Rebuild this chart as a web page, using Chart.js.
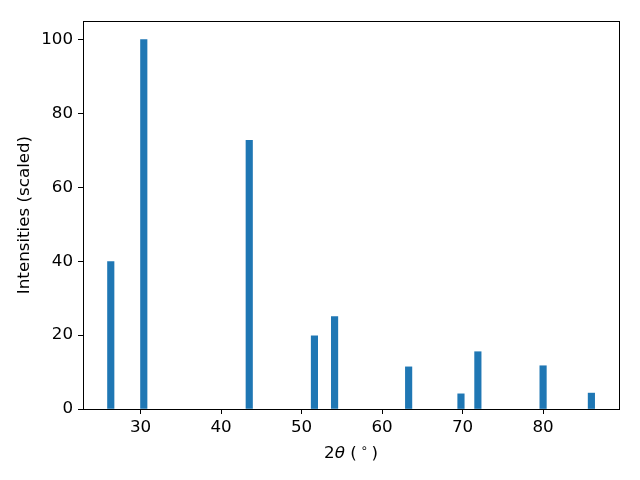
<!DOCTYPE html>
<html>
<head>
<meta charset="utf-8">
<script src="https://cdn.jsdelivr.net/npm/chart.js@4/dist/chart.umd.min.js"></script>
<style>
    body { margin: 0; background: #fff; }
    canvas { display: block; }
</style>
</head>
<body>
<canvas id="xrdChart" width="640" height="480"></canvas>
<script>
// peak positions (2theta, degrees) and scaled intensities
const peakAngles = [26.3, 30.4, 43.5, 51.6, 54.1, 63.3, 69.8, 71.9, 80.0, 86.0];
const intensities = [39.9, 100, 72.7, 19.8, 25.0, 11.4, 4.1, 15.5, 11.7, 4.3];
// x label pieces: [text, style] -> "2θ (°)" with italic theta and superscript circle
const xLabelParts = [["2", "normal"], ["θ", "italic"], [" (", "normal"], [" ∘ ", "sup"], [")", "normal"]];
const yLabel = "Intensities (scaled)";

const fontFamily = "'DejaVu Sans', sans-serif";
const fontSize = 16.7;

// matplotlib-style box around the axes
const frame = {
    id: "frame",
    afterDraw(chart) {
        const { ctx, chartArea } = chart;
        ctx.save();
        ctx.strokeStyle = "#000";
        ctx.lineWidth = 1;
        ctx.strokeRect(chartArea.left + 0.5, chartArea.top + 0.5,
            chartArea.right - chartArea.left, chartArea.bottom - chartArea.top);
        ctx.restore();
    }
};

// x axis title drawn in pieces so theta can be italic and the degree sign raised
const xTitle = {
    id: "xTitle",
    afterDraw(chart) {
        const { ctx, chartArea } = chart;
        const fontFor = (style) => {
            if (style === "italic") return "oblique " + fontSize + "px " + fontFamily;
            if (style === "sup") return (fontSize * 0.7) + "px " + fontFamily;
            return fontSize + "px " + fontFamily;
        };
        ctx.save();
        ctx.fillStyle = "#000";
        ctx.textBaseline = "alphabetic";
        ctx.textAlign = "left";
        let total = 0;
        const widths = xLabelParts.map(([t, s]) => {
            ctx.font = fontFor(s);
            const w = ctx.measureText(t).width;
            total += w;
            return w;
        });
        let x = (chartArea.left + chartArea.right) / 2 - total / 2;
        const baseY = 458;
        xLabelParts.forEach(([t, s], i) => {
            ctx.font = fontFor(s);
            ctx.fillText(t, x, s === "sup" ? baseY - 6 : baseY);
            x += widths[i];
        });
        ctx.restore();
    }
};

function init() {
    const points = peakAngles.map((x, i) => ({ x: x, y: intensities[i] }));

    new Chart("xrdChart", {
        type: "bar",
        data: {
            datasets: [{
                data: points,
                backgroundColor: "#1f77b4",
                borderWidth: 0,
                barThickness: 6.5
            }]
        },
        options: {
            responsive: false,
            animation: false,
            layout: { padding: { top: 21, right: 21, left: 0, bottom: 0 } },
            plugins: {
                legend: { display: false },
                tooltip: { enabled: false }
            },
            scales: {
                x: {
                    type: "linear",
                    min: 22.85,
                    max: 89.43,
                    offset: false,
                    afterFit: (scale) => { scale.height = 71; },
                    grid: { display: true, offset: false, drawOnChartArea: false, drawTicks: true, tickLength: 5, color: "#000" },
                    border: { display: true, color: "#000", width: 1 },
                    ticks: {
                        stepSize: 10,
                        includeBounds: false,
                        padding: 4,
                        color: "#000",
                        maxRotation: 0,
                        font: { family: fontFamily, size: fontSize }
                    },
                    title: { display: false }
                },
                y: {
                    min: 0,
                    max: 105,
                    afterFit: (scale) => { scale.width = 83; },
                    grid: { display: true, drawOnChartArea: false, drawTicks: true, tickLength: 5, color: "#000" },
                    border: { display: true, color: "#000", width: 1 },
                    ticks: {
                        stepSize: 20,
                        includeBounds: false,
                        padding: 5,
                        color: "#000",
                        font: { family: fontFamily, size: fontSize }
                    },
                    title: {
                        display: true,
                        text: yLabel,
                        color: "#000",
                        font: { family: fontFamily, size: fontSize },
                        padding: { top: 15, bottom: 0 }
                    }
                }
            }
        },
        plugins: [frame, xTitle]
    });
}

init();
</script>
</body>
</html>
